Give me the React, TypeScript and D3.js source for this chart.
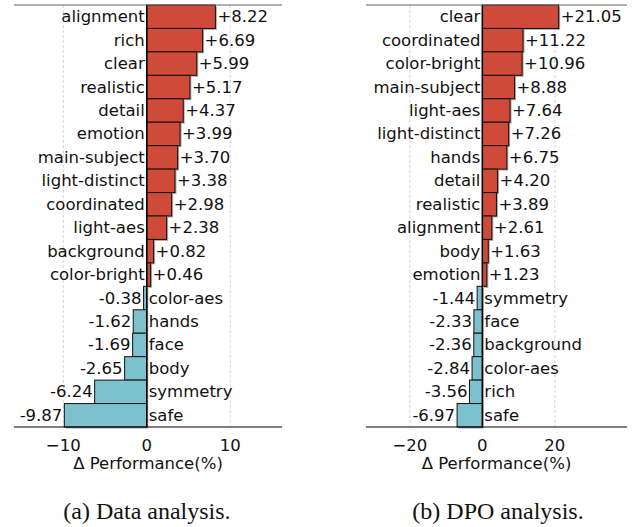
import React from 'react';
import * as d3 from 'd3';

const width = 636;
const height = 527;

// (a) Data analysis
const dataCats = ['alignment', 'rich', 'clear', 'realistic', 'detail', 'emotion', 'main-subject', 'light-distinct', 'coordinated', 'light-aes', 'background', 'color-bright', 'color-aes', 'hands', 'face', 'body', 'symmetry', 'safe'];
const dataVals = [8.22, 6.69, 5.99, 5.17, 4.37, 3.99, 3.70, 3.38, 2.98, 2.38, 0.82, 0.46, -0.38, -1.62, -1.69, -2.65, -6.24, -9.87];
const dataTicks = [-10, 0, 10];

// (b) DPO analysis
const dpoCats = ['clear', 'coordinated', 'color-bright', 'main-subject', 'light-aes', 'light-distinct', 'hands', 'detail', 'realistic', 'alignment', 'body', 'emotion', 'symmetry', 'face', 'background', 'color-aes', 'rich', 'safe'];
const dpoVals = [21.05, 11.22, 10.96, 8.88, 7.64, 7.26, 6.75, 4.20, 3.89, 2.61, 1.63, 1.23, -1.44, -2.33, -2.36, -2.84, -3.56, -6.97];
const dpoTicks = [-20, 0, 20];

const red = '#cf4a38';
const blue = '#7dc1ce';
const font = 'DejaVu Sans, sans-serif';
const top = 5;
const bottom = 427;

type PanelProps = {
  cats: string[];
  vals: number[];
  ticks: number[];
  domain: [number, number];
  x0: number;
  x1: number;
  caption: string;
  captionX: number;
};

function Panel({ cats, vals, ticks, domain, x0, x1, caption, captionX }: PanelProps) {
  const x = d3.scaleLinear().domain(domain).range([x0, x1]);
  const y = d3.scaleBand().domain(cats).range([top, bottom]).padding(0);
  const zero = x(0);
  const fmt = (v: number) => (v > 0 ? '+' : '') + v.toFixed(2);
  const fs = 16.5;
  return (
    <g>
      {ticks.filter((t) => t !== 0).map((t) => (
        <line key={'g' + t} x1={x(t)} x2={x(t)} y1={top} y2={bottom}
          stroke="#cccccc" strokeWidth={0.8} strokeDasharray="3,2" />
      ))}
      {cats.map((c, i) => {
        const v = vals[i];
        const bx = Math.min(zero, x(v));
        const bw = Math.abs(x(v) - zero);
        const by = y(c) as number;
        const bh = y.bandwidth();
        return (
          <g key={c}>
            <rect x={bx + 1.5} y={by + 1.5} width={bw} height={bh} fill="#888" opacity={0.7} />
            <rect x={bx} y={by} width={bw} height={bh}
              fill={v >= 0 ? red : blue} stroke="#111" strokeWidth={1} />
          </g>
        );
      })}
      <line x1={zero} x2={zero} y1={top} y2={bottom} stroke="#000" strokeWidth={1.5} />
      {cats.map((c, i) => {
        const v = vals[i];
        const cy = (y(c) as number) + y.bandwidth() / 2;
        const pos = v >= 0;
        return (
          <g key={'t' + c} fontFamily={font} fontSize={fs} fill="#111" dominantBaseline="central">
            <text x={pos ? zero - 2 : zero + 2} y={cy} textAnchor={pos ? 'end' : 'start'}>{c}</text>
            <text x={pos ? x(v) + 2 : x(v) - 2} y={cy} textAnchor={pos ? 'start' : 'end'}>{fmt(v)}</text>
          </g>
        );
      })}
      <line x1={x0} x2={x1} y1={top} y2={top} stroke="#666" strokeWidth={1.2} />
      <line x1={x0} x2={x1} y1={bottom} y2={bottom} stroke="#000" strokeWidth={1.2} />
      {ticks.map((t) => (
        <text key={'k' + t} x={x(t)} y={bottom + 24} textAnchor="middle" fontFamily={font} fontSize={fs} fill="#111">
          {t < 0 ? '\u2212' + Math.abs(t) : String(t)}
        </text>
      ))}
      <text x={(x0 + x1) / 2} y={bottom + 42} textAnchor="middle" fontFamily={font} fontSize={fs} fill="#111">
        Δ Performance(%)
      </text>
      <text x={captionX} y={519} textAnchor="middle" fontFamily="Liberation Serif, serif" fontSize={24} fill="#111">
        {caption}
      </text>
    </g>
  );
}

export default function App() {
  return (
    <svg width={width} height={height} style={{ display: 'block', position: 'absolute', left: 0, top: 0, background: '#fff' }}>
      <Panel cats={dataCats} vals={dataVals} ticks={dataTicks} domain={[-15.9, 16.2]}
        x0={14} x1={282} caption="(a) Data analysis." captionX={147} />
      <Panel cats={dpoCats} vals={dpoVals} ticks={dpoTicks} domain={[-32.1, 39.9]}
        x0={366} x1={627} caption="(b) DPO analysis." captionX={498} />
    </svg>
  );
}
